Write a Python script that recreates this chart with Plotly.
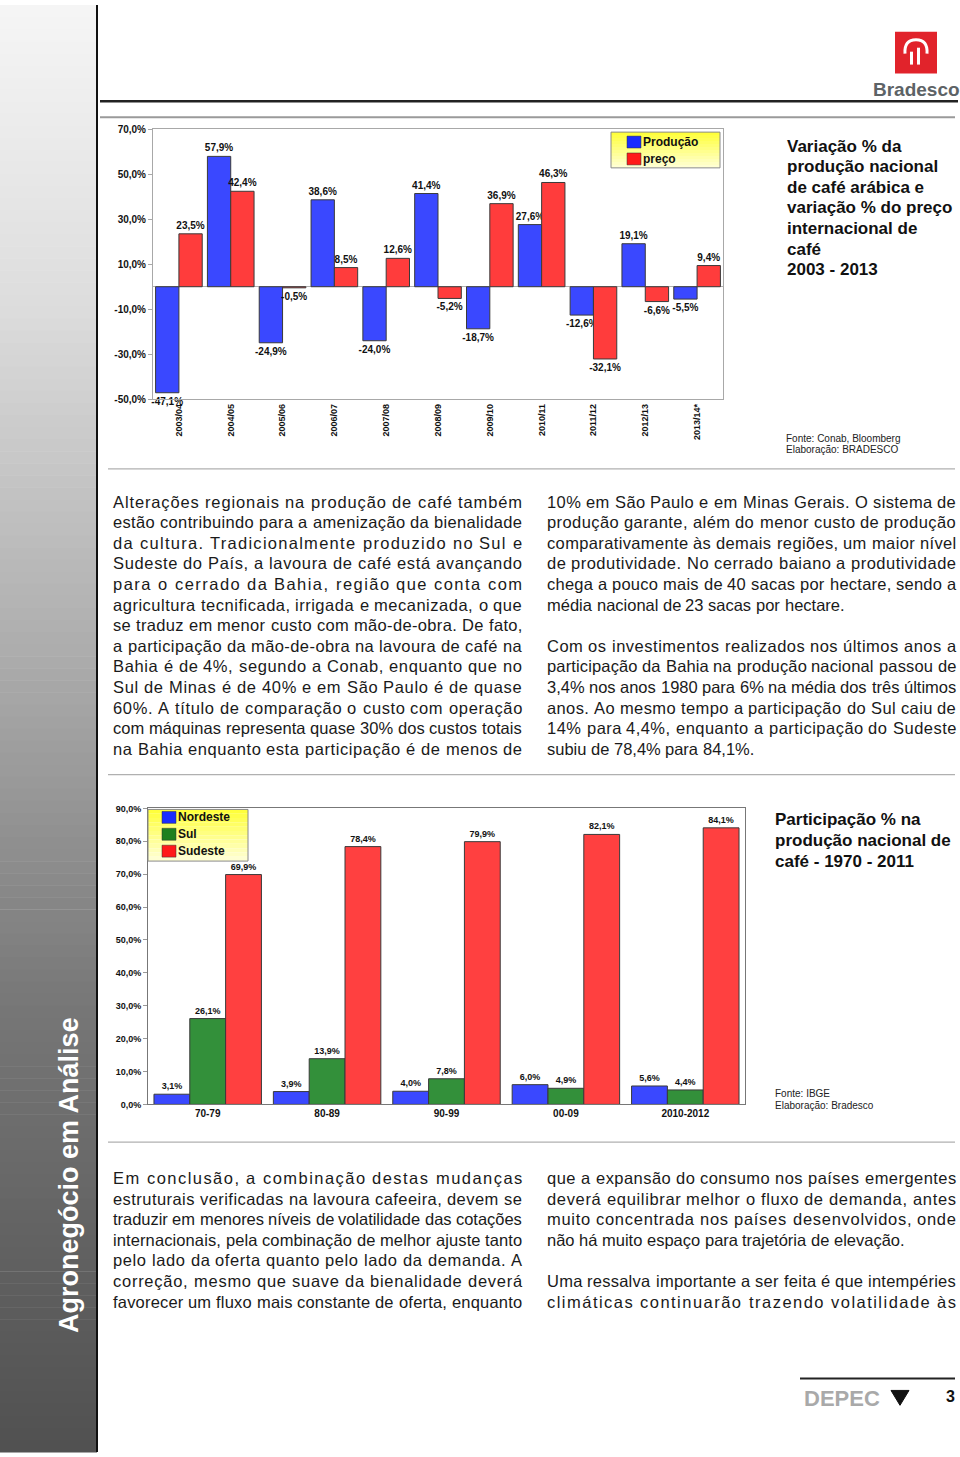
import plotly.graph_objects as go

W, H = 960, 1457


def X(px):
    return px / W


def Y(py):
    return 1 - py / H


# ---------------- data ----------------
seasons = ["2003/04", "2004/05", "2005/06", "2006/07", "2007/08", "2008/09",
           "2009/10", "2010/11", "2011/12", "2012/13", "2013/14*"]
producao = [-47.1, 57.9, -24.9, 38.6, -24.0, 41.4, -18.7, 27.6, -12.6, 19.1, -5.5]
preco = [23.5, 42.4, -0.5, 8.5, 12.6, -5.2, 36.9, 46.3, -32.1, -6.6, 9.4]
top_ticks = [70, 50, 30, 10, -10, -30, -50]

decadas = ["70-79", "80-89", "90-99", "00-09", "2010-2012"]
nordeste = [3.1, 3.9, 4.0, 6.0, 5.6]
sul = [26.1, 13.9, 7.8, 4.9, 4.4]
sudeste = [69.9, 78.4, 79.9, 82.1, 84.1]
bottom_ticks = [0, 10, 20, 30, 40, 50, 60, 70, 80, 90]

top_series = ["Produção", "preço"]
bottom_series = ["Nordeste", "Sul", "Sudeste"]

title_top = ["Variação % da", "produção nacional", "de café arábica e",
             "variação % do preço", "internacional de", "café", "2003 - 2013"]
title_bottom = ["Participação % na", "produção nacional de", "café - 1970 - 2011"]
fonte_top = ["Fonte: Conab, Bloomberg", "Elaboração: BRADESCO"]
fonte_bottom = ["Fonte: IBGE", "Elaboração: Bradesco"]

par1_left = [
    "Alterações regionais na produção de café também",
    "estão contribuindo para a amenização da bienalidade",
    "da cultura. Tradicionalmente produzido no Sul e",
    "Sudeste do País, a lavoura de café está avançando",
    "para o cerrado da Bahia, região que conta com",
    "agricultura tecnificada, irrigada e mecanizada, o que",
    "se traduz em menor custo com mão-de-obra. De fato,",
    "a participação da mão-de-obra na lavoura de café na",
    "Bahia é de 4%, segundo a Conab, enquanto que no",
    "Sul de Minas é de 40% e em São Paulo é de quase",
    "60%. A título de comparação o custo com operação",
    "com máquinas representa quase 30% dos custos totais",
    "na Bahia enquanto esta participação é de menos de",
]
par1_right = [
    "10% em São Paulo e em Minas Gerais.  O sistema de",
    "produção garante, além do menor custo de produção",
    "comparativamente às demais regiões, um maior nível",
    "de produtividade. No cerrado baiano a produtividade",
    "chega a pouco mais de 40 sacas por hectare, sendo a",
    "média nacional de 23 sacas por hectare.",
    "",
    "Com os investimentos realizados nos últimos anos a",
    "participação da Bahia na produção nacional passou de",
    "3,4% nos anos 1980 para 6% na média dos três últimos",
    "anos. Ao mesmo tempo a participação do Sul caiu de",
    "14% para 4,4%, enquanto a participação do Sudeste",
    "subiu de 78,4% para 84,1%.",
]
par2_left = [
    "Em conclusão, a combinação destas mudanças",
    "estruturais verificadas na lavoura cafeeira, devem se",
    "traduzir em menores níveis de volatilidade das cotações",
    "internacionais, pela combinação de melhor ajuste tanto",
    "pelo lado da oferta quanto pelo lado da demanda. A",
    "correção, mesmo que suave da bienalidade deverá",
    "favorecer um fluxo mais constante de oferta, enquanto",
]
par2_right = [
    "que a expansão do consumo nos países emergentes",
    "deverá equilibrar melhor o fluxo de demanda, antes",
    "muito concentrada nos países desenvolvidos, onde",
    "não há muito espaço para trajetória de elevação.",
    "",
    "Uma ressalva importante a ser feita é que intempéries",
    "climáticas continuarão trazendo volatilidade às",
]
# lines that close a paragraph (not justified)
ragged_p1r = {5, 12}
ragged_p2r = {3}

FONT = "Liberation Sans, Arial, sans-serif"
BLUE = "#3a48ff"
RED = "#ff3c3c"
GREEN = "#33903a"
RED2 = "#ff4040"


def pt(v):
    return f"{v:.1f}".replace(".", ",") + "%"


fig = go.Figure()

# ---------------- top chart ----------------
for name, vals, col in [(top_series[0], producao, BLUE), (top_series[1], preco, RED)]:
    fig.add_trace(go.Bar(
        x=seasons, y=vals, name=name,
        marker=dict(color=col, line=dict(color="#3a3a3a", width=1)),
        text=[pt(v) for v in vals], textposition="outside",
        textfont=dict(family=FONT, size=10, color="#111", weight="bold"),
        constraintext="none", cliponaxis=False,
        xaxis="x", yaxis="y", showlegend=False,
    ))

# ---------------- bottom chart ----------------
for name, vals, col in [(bottom_series[0], nordeste, BLUE), (bottom_series[1], sul, GREEN),
                        (bottom_series[2], sudeste, RED2)]:
    fig.add_trace(go.Bar(
        x=decadas, y=vals, name=name,
        marker=dict(color=col, line=dict(color="#3a3a3a", width=1)),
        text=[pt(v) for v in vals], textposition="outside",
        textfont=dict(family=FONT, size=9, color="#111", weight="bold"),
        constraintext="none", cliponaxis=False,
        xaxis="x2", yaxis="y2", showlegend=False,
    ))

axis_common = dict(showgrid=False, showline=True, mirror=True, fixedrange=True)

fig.update_layout(
    width=W, height=H,
    margin=dict(l=0, r=0, t=0, b=0),
    paper_bgcolor="white", plot_bgcolor="rgba(0,0,0,0)",
    barmode="group", bargap=0.1, bargroupgap=0,
    showlegend=False,
    font=dict(family=FONT, color="#111"),
    xaxis=dict(domain=[X(153), X(723)], anchor="y", type="category",
               tickangle=-90, tickfont=dict(size=9, weight="bold", color="#111"),
               linecolor="#a8a8a8", linewidth=1, ticks="", **axis_common),
    yaxis=dict(domain=[Y(397), Y(125)], anchor="x", range=[-50, 70],
               tickvals=top_ticks, ticktext=[pt(v) for v in top_ticks],
               tickfont=dict(size=10, weight="bold", color="#111"),
               ticks="outside", ticklen=4, tickcolor="#a8a8a8",
               zeroline=True, zerolinecolor="#b0b0b0", zerolinewidth=1,
               linecolor="#a8a8a8", linewidth=1, **axis_common),
    xaxis2=dict(domain=[X(148), X(745)], anchor="y2", type="category",
                tickfont=dict(size=10, weight="bold", color="#111"),
                linecolor="#777", linewidth=1, ticks="", **axis_common),
    yaxis2=dict(domain=[Y(1107), Y(809)], anchor="x2", range=[0, 90],
                tickvals=bottom_ticks, ticktext=[pt(v) for v in bottom_ticks],
                tickfont=dict(size=9, weight="bold", color="#111"),
                ticks="outside", ticklen=4, tickcolor="#999",
                zeroline=False, linecolor="#777", linewidth=1, **axis_common),
)

shapes = []
annotations = []

# ---------------- sidebar gradient ----------------
stops = [(0.0, (245, 245, 245)), (0.2, (222, 222, 222)), (0.45, (172, 172, 172)),
         (0.69, (119, 119, 119)), (1.0, (80, 80, 80))]


def grad(t):
    for (t0, c0), (t1, c1) in zip(stops[:-1], stops[1:]):
        if t0 <= t <= t1:
            f = (t - t0) / (t1 - t0)
            c = [round(a + (b - a) * f) for a, b in zip(c0, c1)]
            return f"rgb({c[0]},{c[1]},{c[2]})"
    return "rgb(80,80,80)"


n = 120
for i in range(n):
    y0 = i * H / n
    y1 = (i + 1) * H / n + 0.5
    shapes.append(dict(type="rect", xref="paper", yref="paper",
                       x0=0, x1=X(97), y0=Y(y1), y1=Y(y0),
                       fillcolor=grad((i + 0.5) / n), line=dict(width=0)))
shapes.append(dict(type="line", xref="paper", yref="paper", x0=X(97), x1=X(97),
                   y0=0, y1=1, line=dict(color="#111", width=2)))

annotations.append(dict(xref="paper", yref="paper", x=X(69), y=Y(1178),
                        text="Agronegócio em Análise", textangle=-90, showarrow=False,
                        font=dict(family=FONT, size=27, color="white", weight="bold"),
                        xanchor="center", yanchor="middle"))

# ---------------- logo ----------------
shapes.append(dict(type="rect", xref="paper", yref="paper", x0=X(895), x1=X(937),
                   y0=Y(69), y1=Y(27), fillcolor="#e1232b", line=dict(width=0)))
shapes.append(dict(type="path", xref="paper", yref="paper",
                   path=f"M {X(905)} {Y(49)} Q {X(904)} {Y(35)} {X(916)} {Y(35)} "
                        f"Q {X(928)} {Y(35)} {X(927)} {Y(49)}",
                   line=dict(color="white", width=3)))
shapes.append(dict(type="rect", xref="paper", yref="paper", x0=X(910), x1=X(913),
                   y0=Y(60), y1=Y(47), fillcolor="white", line=dict(width=0)))
shapes.append(dict(type="rect", xref="paper", yref="paper", x0=X(917), x1=X(920),
                   y0=Y(60), y1=Y(43), fillcolor="white", line=dict(width=0)))
annotations.append(dict(xref="paper", yref="paper", x=X(916), y=Y(85), text="Bradesco",
                        showarrow=False, xanchor="center", yanchor="middle",
                        font=dict(family=FONT, size=19, color="#5d6366", weight="bold")))

# ---------------- rules ----------------
def hline(py, x0, x1, color, width):
    shapes.append(dict(type="line", xref="paper", yref="paper", x0=X(x0), x1=X(x1),
                       y0=Y(py), y1=Y(py), line=dict(color=color, width=width)))


hline(97, 100, 958, "#222", 2.5)
hline(113, 100, 955, "#9a9a9a", 2)
hline(467, 108, 955, "#b0b0b0", 1.2)
hline(775, 108, 955, "#b0b0b0", 1.2)
hline(1145, 108, 955, "#b0b0b0", 1.2)
hline(1383, 800, 955, "#222", 2)

# ---------------- legends (manual) ----------------
def legend_box(x0, y0, x1, y1, names, colors, rows_y, sw_x, txt_x):
    steps = 12
    for k in range(steps):
        f = k / (steps - 1)
        g = round(60 + 150 * f)
        ya = y0 + (y1 - y0) * k / steps
        yb = y0 + (y1 - y0) * (k + 1) / steps
        shapes.append(dict(type="rect", xref="paper", yref="paper", x0=X(x0), x1=X(x1),
                           y0=Y(yb), y1=Y(ya), fillcolor=f"rgb(255,255,{g})",
                           line=dict(width=0)))
    shapes.append(dict(type="rect", xref="paper", yref="paper", x0=X(x0), x1=X(x1),
                       y0=Y(y1), y1=Y(y0), line=dict(color="#8a8a8a", width=1)))
    for nm, col, ry in zip(names, colors, rows_y):
        shapes.append(dict(type="rect", xref="paper", yref="paper", x0=X(sw_x), x1=X(sw_x + 14),
                           y0=Y(ry + 6), y1=Y(ry - 6), fillcolor=col,
                           line=dict(color="#333", width=0.5)))
        annotations.append(dict(xref="paper", yref="paper", x=X(txt_x), y=Y(ry), text=nm,
                                showarrow=False, xanchor="left", yanchor="middle",
                                font=dict(family=FONT, size=12, color="#111", weight="bold")))


legend_box(611, 128, 720, 164, top_series, ["#1a2cff", "#ff1a1a"], [138, 155], 627, 641)
legend_box(148, 810, 248, 862, bottom_series, ["#1a2cff", "#1e801e", "#ff1a1a"],
           [818, 835, 852], 162, 176)

# ---------------- titles & sources ----------------
for i, line in enumerate(title_top):
    annotations.append(dict(xref="paper", yref="paper", x=X(785), y=Y(142 + i * 20.8),
                            text=line, showarrow=False, xanchor="left", yanchor="middle",
                            font=dict(family=FONT, size=17, color="#111", weight="bold")))
for i, line in enumerate(fonte_top):
    annotations.append(dict(xref="paper", yref="paper", x=X(784), y=Y(436 + i * 12),
                            text=line, showarrow=False, xanchor="left", yanchor="middle",
                            font=dict(family=FONT, size=10, color="#222")))
for i, line in enumerate(title_bottom):
    annotations.append(dict(xref="paper", yref="paper", x=X(773), y=Y(820 + i * 21),
                            text=line, showarrow=False, xanchor="left", yanchor="middle",
                            font=dict(family=FONT, size=17, color="#111", weight="bold")))
for i, line in enumerate(fonte_bottom):
    annotations.append(dict(xref="paper", yref="paper", x=X(773), y=Y(1096 + i * 12),
                            text=line, showarrow=False, xanchor="left", yanchor="middle",
                            font=dict(family=FONT, size=10, color="#222")))

# ---------------- justified paragraphs (character-spaced) ----------------
ARIAL = {" ": 278, "%": 889, ",": 278, "-": 333, ".": 278, "/": 278, ":": 278,
         "A": 667, "B": 667, "C": 722, "D": 722, "E": 667, "F": 611, "G": 778, "H": 722,
         "I": 278, "J": 500, "K": 667, "L": 556, "M": 833, "N": 722, "O": 778, "P": 667,
         "Q": 778, "R": 722, "S": 667, "T": 611, "U": 722, "V": 667, "W": 944, "X": 667,
         "Y": 667, "Z": 611,
         "a": 556, "b": 556, "c": 500, "d": 556, "e": 556, "f": 278, "g": 556, "h": 556,
         "i": 222, "j": 222, "k": 500, "l": 222, "m": 833, "n": 556, "o": 556, "p": 556,
         "q": 556, "r": 333, "s": 500, "t": 278, "u": 556, "v": 500, "w": 722, "x": 500,
         "y": 500, "z": 500,
         "á": 556, "à": 556, "â": 556, "ã": 556, "é": 556, "ê": 556, "í": 278, "ó": 556,
         "ô": 556, "õ": 556, "ú": 556, "ç": 500, "É": 667, "Á": 667}
PSIZE = 16.5


def cw(ch):
    return ARIAL.get(ch, 556) * PSIZE / 1000


def paragraph(lines, left, right, py_first, ragged=()):
    for i, line in enumerate(lines):
        if not line:
            continue
        py = py_first + i * 20.75
        text = " ".join(line.split())
        natural = sum(cw(ch) for ch in text)
        if i in ragged:
            ls = 0.0
        else:
            ls = (right - left - natural) / (len(text) - 1)
        # place word by word; letter-spacing inside words
        x = left
        for k, word in enumerate(text.split(" ")):
            style = f"letter-spacing:{ls:.3f}px" if abs(ls) > 0.01 else ""
            label = f'<span style="{style}">{word}</span>' if style else word
            annotations.append(dict(xref="paper", yref="paper", x=X(x - 1), y=Y(py),
                                    text=label, showarrow=False, xanchor="left",
                                    yanchor="middle", borderpad=0,
                                    font=dict(family=FONT, size=PSIZE, color="#1a1a1a")))
            x += sum(cw(ch) + ls for ch in word) + cw(" ") + ls


paragraph(par1_left, 113, 522, 500)
paragraph(par1_right, 547, 956, 500, ragged_p1r)
paragraph(par2_left, 113, 522, 1181)
paragraph(par2_right, 547, 956, 1181, ragged_p2r)

# ---------------- footer ----------------
annotations.append(dict(xref="paper", yref="paper", x=X(842), y=Y(1403), text="DEPEC",
                        showarrow=False, xanchor="center", yanchor="middle",
                        font=dict(family=FONT, size=22, color="#a9a9a9", weight="bold")))
shapes.append(dict(type="path", xref="paper", yref="paper",
                   path=f"M {X(891)} {Y(1395)} L {X(909)} {Y(1395)} L {X(900)} {Y(1410)} Z",
                   fillcolor="#111", line=dict(color="#111", width=1)))
annotations.append(dict(xref="paper", yref="paper", x=X(950), y=Y(1401), text="3",
                        showarrow=False, xanchor="center", yanchor="middle",
                        font=dict(family=FONT, size=16, color="#111", weight="bold")))

fig.update_layout(shapes=shapes, annotations=annotations)
fig.write_html(
    "out.html",
    config={"displayModeBar": False, "staticPlot": True},
    post_script=(
        "document.documentElement.style.margin='0';"
        "document.documentElement.style.padding='0';"
        "document.documentElement.style.overflow='hidden';"
        "document.body.style.margin='0';"
        "document.body.style.padding='0';"
        "document.body.style.overflow='hidden';"
    ),
)
